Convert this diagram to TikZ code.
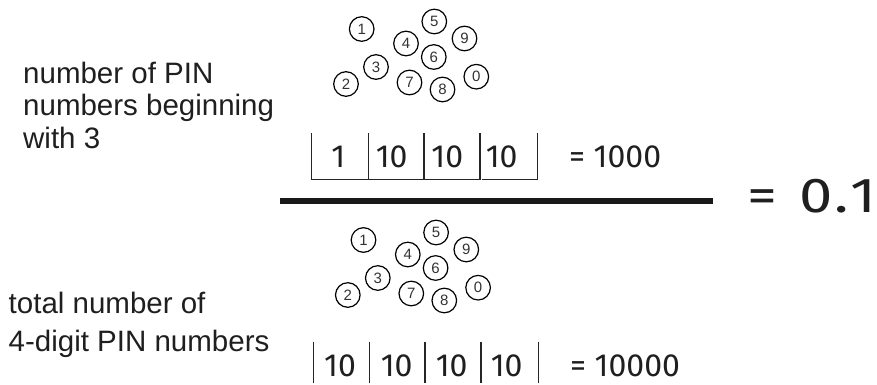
\documentclass[tikz,border=0pt]{standalone}
\usepackage{fontspec}
\setmainfont{Liberation Sans}
\newfontfamily\numfont{Fira Sans}
\newfontfamily\widenumfont[FakeStretch=1.22]{Fira Sans}
\begin{document}
\begin{tikzpicture}[x=1pt,y=-1pt,
  ball/.style={circle,draw=black,line width=1.2pt,minimum size=24.6pt,inner sep=0pt,
    font=\fontsize{15}{15}\selectfont,text=black!80},
  caption/.style={anchor=base west,align=left,inner sep=0pt,text=black!88},
  cell/.style={anchor=base,inner sep=0pt,font=\numfont\fontsize{32}{32}\selectfont,text=black!88},
  result/.style={anchor=base west,inner sep=0pt,font=\numfont\fontsize{32}{32}\selectfont,text=black!88},
  cellline/.style={line width=1.2pt,draw=black!85}]
\useasboundingbox (0,0) rectangle (877,385);

% digit balls above and below the bar
\foreach \d/\x/\y in {1/361.7/29, 2/346/84, 3/376/67, 4/406/43.5, 5/434.3/21.5,
                      6/433.8/57, 7/409.5/82.5, 8/442.5/89.5, 9/464.5/38.5, 0/476.3/76.7}{
  \node[ball] (t\d) at (\x,\y) {\d};
  \node[ball] (b\d) at ({\x+1.8},{\y+211}) {\d};
}

% captions (anchored at the baseline of their last line)
\node[caption,font=\fontsize{29.5}{32.5}\selectfont] (numlbl) at (23,148)
  {number of PIN\\numbers beginning\\with 3};
\node[caption,font=\fontsize{29.5}{38}\selectfont] (denlbl) at (8.5,351)
  {total number of\\4-digit PIN numbers};

% numerator slots
\draw[cellline] (311.7,133) -- (311.7,179.3) -- (480,179.3) -- (480,133);
\draw[cellline] (481.5,179.3) -- (537.3,179.3) -- (537.3,133);
\foreach \x in {368.3,424}
  \draw[cellline] (\x,133) -- (\x,179.3);
\node[cell] (n1) at (338.3,167) {1};
\node[cell] (n2) at (391.7,167) {10};
\node[cell] (n3) at (447.3,167) {10};
\node[cell] (n4) at (501.7,167) {10};
\node[result] (nres) at (569,167) {= 1000};

% denominator slots
\foreach \x in {313.3,369.3,425,481,538.3}
  \draw[cellline] (\x,341.7) -- (\x,383.3);
\node[cell] (d1) at (340,376) {10};
\node[cell] (d2) at (396.7,376) {10};
\node[cell] (d3) at (451.7,376) {10};
\node[cell] (d4) at (506.7,376) {10};
\node[result] (dres) at (570,376) {= 10000};

% fraction bar and value
\coordinate (barL) at (280,200.5);
\coordinate (barR) at (713,200.5);
\draw[line width=6pt,black!90] (barL) -- (barR);
\node[result,anchor=base east,font=\widenumfont\fontsize{49}{49}\selectfont] (val) at (877,212)
  {=\hspace{0.45em}0\kern0.04em.\kern0.04em1};
\end{tikzpicture}
\end{document}
